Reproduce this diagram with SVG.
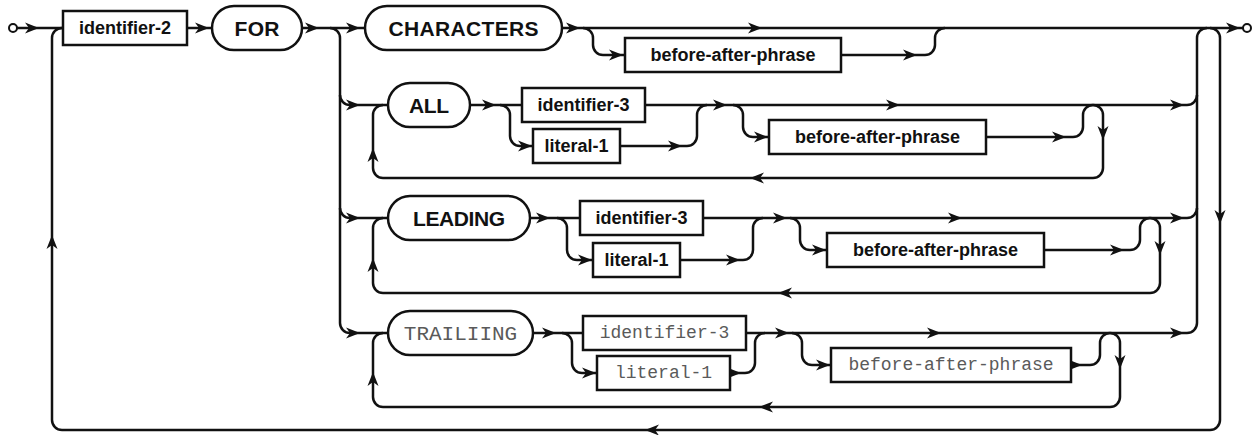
<svg xmlns="http://www.w3.org/2000/svg" xmlns:xlink="http://www.w3.org/1999/xlink" width="1255" height="435" viewBox="0 0 1255 435">
<style>
.ln{fill:none;stroke:#111;stroke-width:2.5}
.bx{fill:#fff;stroke:#111;stroke-width:2.5}
.t{font-family:"Liberation Sans",Arial,sans-serif;font-weight:bold;font-size:18px;fill:#111;text-anchor:middle}
.k{font-family:"Liberation Sans",Arial,sans-serif;font-weight:bold;font-size:21px;fill:#111;text-anchor:middle}
.m{font-family:"Liberation Mono","Courier New",monospace;font-size:18px;fill:#5a5a5a;text-anchor:middle}
.mk{font-family:"Liberation Mono","Courier New",monospace;font-size:21px;fill:#5a5a5a;text-anchor:middle}
.ah{fill:#111}
.end{fill:#fff;stroke:#111;stroke-width:2}
</style>
<defs>
<path id="ah" class="ah" d="M0,0 L-14,-5.5 L-10,0 L-14,5.5 Z"/>
</defs>
<rect width="1255" height="435" fill="#fff"/>
<g id="connectors">
<circle class="end" cx="13" cy="28" r="4"/>
<circle class="end" cx="1247" cy="28" r="4"/>
<path class="ln" d="M17,28 H1243"/>
<path class="ln" d="M1210,28 a10,10 0 0 1 10,10 V420 a10,10 0 0 1 -10,10 H62 a10,10 0 0 1 -10,-10 V38 a10,10 0 0 1 10,-10"/>
<path class="ln" d="M1197,323 V38 a10,10 0 0 1 10,-10"/>
<path class="ln" d="M330,28 a10,10 0 0 1 10,10 V323 a10,10 0 0 0 10,10 H388"/>
<path class="ln" d="M340,95 a10,10 0 0 0 10,10 H388"/>
<path class="ln" d="M340,208 a10,10 0 0 0 10,10 H388"/>
<path class="ln" d="M583,28 a10,10 0 0 1 10,10 v7 a10,10 0 0 0 10,10 H625"/>
<path class="ln" d="M841,55 H925 a10,10 0 0 0 10,-10 v-7 a10,10 0 0 1 10,-10"/>
<path class="ln" d="M470,105 H1187 a10,10 0 0 0 10,-10"/>
<path class="ln" d="M500,105 a10,10 0 0 1 10,10 v21 a10,10 0 0 0 10,10 H533"/>
<path class="ln" d="M620,146 H687 a10,10 0 0 0 10,-10 v-21 a10,10 0 0 1 10,-10"/>
<path class="ln" d="M733,105 a10,10 0 0 1 10,10 v12 a10,10 0 0 0 10,10 H769"/>
<path class="ln" d="M986,137 H1073 a10,10 0 0 0 10,-10 v-12 a10,10 0 0 1 10,-10"/>
<path class="ln" d="M1093,105 a10,10 0 0 1 10,10 V168 a10,10 0 0 1 -10,10 H383 a10,10 0 0 1 -10,-10 V115 a10,10 0 0 1 10,-10"/>
<path class="ln" d="M530,218 H1187 a10,10 0 0 0 10,-10"/>
<path class="ln" d="M557,218 a10,10 0 0 1 10,10 v22 a10,10 0 0 0 10,10 H593"/>
<path class="ln" d="M680,260 H743 a10,10 0 0 0 10,-10 v-22 a10,10 0 0 1 10,-10"/>
<path class="ln" d="M790,218 a10,10 0 0 1 10,10 v12 a10,10 0 0 0 10,10 H827"/>
<path class="ln" d="M1044,250 H1130 a10,10 0 0 0 10,-10 v-12 a10,10 0 0 1 10,-10"/>
<path class="ln" d="M1150,218 a10,10 0 0 1 10,10 V283 a10,10 0 0 1 -10,10 H383 a10,10 0 0 1 -10,-10 V228 a10,10 0 0 1 10,-10"/>
<path class="ln" d="M533,333 H1187 a10,10 0 0 0 10,-10"/>
<path class="ln" d="M562,333 a10,10 0 0 1 10,10 v20 a10,10 0 0 0 10,10 H597"/>
<path class="ln" d="M730,373 H745 a10,10 0 0 0 10,-10 v-20 a10,10 0 0 1 10,-10"/>
<path class="ln" d="M792,333 a10,10 0 0 1 10,10 v12 a10,10 0 0 0 10,10 H831"/>
<path class="ln" d="M1071,365 H1090 a10,10 0 0 0 10,-10 v-12 a10,10 0 0 1 10,-10"/>
<path class="ln" d="M1110,333 a10,10 0 0 1 10,10 V397 a10,10 0 0 1 -10,10 H383 a10,10 0 0 1 -10,-10 V343 a10,10 0 0 1 10,-10"/>
<use xlink:href="#ah" transform="translate(39,28)"/>
<use xlink:href="#ah" transform="translate(209,28)"/>
<use xlink:href="#ah" transform="translate(319,28)"/>
<use xlink:href="#ah" transform="translate(360,28)"/>
<use xlink:href="#ah" transform="translate(580,28)"/>
<use xlink:href="#ah" transform="translate(762,28)"/>
<use xlink:href="#ah" transform="translate(1240,28)"/>
<use xlink:href="#ah" transform="translate(623,55)"/>
<use xlink:href="#ah" transform="translate(917,55)"/>
<use xlink:href="#ah" transform="translate(1220,224) rotate(90)"/>
<use xlink:href="#ah" transform="translate(645,430) rotate(180)"/>
<use xlink:href="#ah" transform="translate(52,235) rotate(-90)"/>
<use xlink:href="#ah" transform="translate(360,105)"/>
<use xlink:href="#ah" transform="translate(496,105)"/>
<use xlink:href="#ah" transform="translate(532,146)"/>
<use xlink:href="#ah" transform="translate(682,146)"/>
<use xlink:href="#ah" transform="translate(727,105)"/>
<use xlink:href="#ah" transform="translate(900,105)"/>
<use xlink:href="#ah" transform="translate(768,137)"/>
<use xlink:href="#ah" transform="translate(1066,137)"/>
<use xlink:href="#ah" transform="translate(1184,105)"/>
<use xlink:href="#ah" transform="translate(1103,140) rotate(90)"/>
<use xlink:href="#ah" transform="translate(750,178) rotate(180)"/>
<use xlink:href="#ah" transform="translate(373,148) rotate(-90)"/>
<use xlink:href="#ah" transform="translate(360,218)"/>
<use xlink:href="#ah" transform="translate(550,218)"/>
<use xlink:href="#ah" transform="translate(592,260)"/>
<use xlink:href="#ah" transform="translate(740,260)"/>
<use xlink:href="#ah" transform="translate(787,218)"/>
<use xlink:href="#ah" transform="translate(962,218)"/>
<use xlink:href="#ah" transform="translate(826,250)"/>
<use xlink:href="#ah" transform="translate(1124,250)"/>
<use xlink:href="#ah" transform="translate(1184,218)"/>
<use xlink:href="#ah" transform="translate(1160,255) rotate(90)"/>
<use xlink:href="#ah" transform="translate(778,293) rotate(180)"/>
<use xlink:href="#ah" transform="translate(373,258) rotate(-90)"/>
<use xlink:href="#ah" transform="translate(360,333)"/>
<use xlink:href="#ah" transform="translate(556,333)"/>
<use xlink:href="#ah" transform="translate(596,373)"/>
<use xlink:href="#ah" transform="translate(741,373)"/>
<use xlink:href="#ah" transform="translate(789,333)"/>
<use xlink:href="#ah" transform="translate(941,333)"/>
<use xlink:href="#ah" transform="translate(830,365)"/>
<use xlink:href="#ah" transform="translate(1082,365)"/>
<use xlink:href="#ah" transform="translate(1184,333)"/>
<use xlink:href="#ah" transform="translate(1120,369) rotate(90)"/>
<use xlink:href="#ah" transform="translate(759,407) rotate(180)"/>
<use xlink:href="#ah" transform="translate(373,372) rotate(-90)"/>
</g>
<g id="n-identifier-2"><rect class="bx" x="63" y="11" width="124" height="34"/><text class="t" x="125" y="34">identifier-2</text></g>
<g id="n-for"><rect class="bx" x="212" y="6" width="90" height="44" rx="22"/><text class="k" x="257" y="35.5" textLength="45" lengthAdjust="spacing">FOR</text></g>
<g id="n-characters"><rect class="bx" x="365" y="6" width="197" height="44" rx="22"/><text class="k" x="463.5" y="35.5" textLength="150" lengthAdjust="spacing">CHARACTERS</text></g>
<g id="n-baph-1"><rect class="bx" x="625" y="38" width="216" height="34"/><text class="t" x="733" y="61">before-after-phrase</text></g>
<g id="n-all"><rect class="bx" x="388" y="83" width="82" height="44" rx="22"/><text class="k" x="429" y="112.5" textLength="40" lengthAdjust="spacing">ALL</text></g>
<g id="n-identifier-3-a"><rect class="bx" x="522" y="88" width="123" height="34"/><text class="t" x="583.5" y="111">identifier-3</text></g>
<g id="n-literal-1-a"><rect class="bx" x="533" y="129" width="87" height="34"/><text class="t" x="576.5" y="152">literal-1</text></g>
<g id="n-baph-2"><rect class="bx" x="769" y="120" width="217" height="34"/><text class="t" x="877.5" y="143">before-after-phrase</text></g>
<g id="n-leading"><rect class="bx" x="388" y="196" width="142" height="44" rx="22"/><text class="k" x="459" y="225.5" textLength="92" lengthAdjust="spacing">LEADING</text></g>
<g id="n-identifier-3-b"><rect class="bx" x="580" y="201" width="123" height="34"/><text class="t" x="641.5" y="224">identifier-3</text></g>
<g id="n-literal-1-b"><rect class="bx" x="593" y="243" width="87" height="34"/><text class="t" x="636.5" y="266">literal-1</text></g>
<g id="n-baph-3"><rect class="bx" x="827" y="233" width="217" height="34"/><text class="t" x="935.5" y="256">before-after-phrase</text></g>
<g id="n-trailiing"><rect class="bx" x="388" y="311" width="145" height="44" rx="22"/><text class="mk" x="460.5" y="339.5">TRAILIING</text></g>
<g id="n-identifier-3-c"><rect class="bx" x="583" y="316" width="163" height="34"/><text class="m" x="664.5" y="338">identifier-3</text></g>
<g id="n-literal-1-c"><rect class="bx" x="597" y="356" width="133" height="34"/><text class="m" x="663.5" y="378">literal-1</text></g>
<g id="n-baph-4"><rect class="bx" x="831" y="348" width="240" height="34"/><text class="m" x="951" y="370">before-after-phrase</text></g>
</svg>
